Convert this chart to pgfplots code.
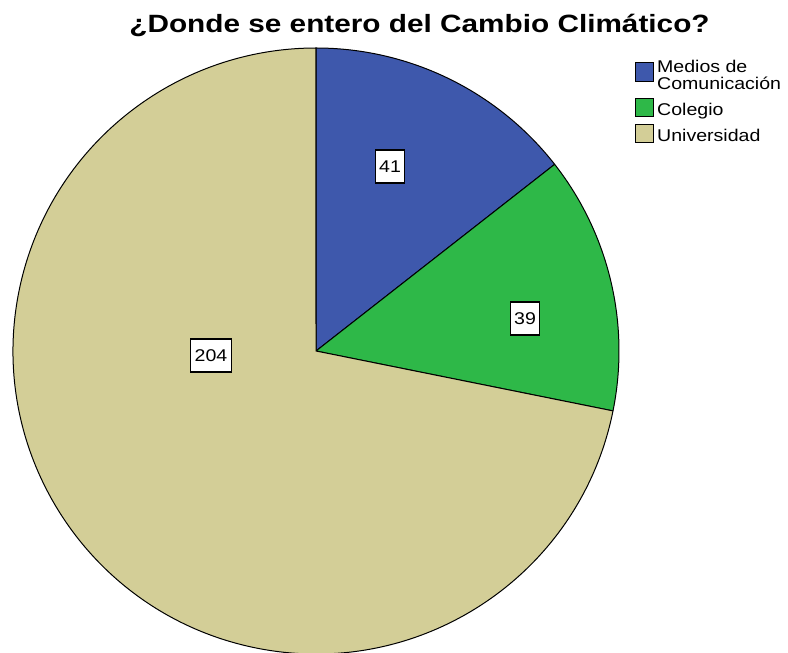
\documentclass[border=0pt]{standalone}
\usepackage{fontspec}
\setmainfont{Liberation Sans}[FakeStretch=1.15]
\newfontfamily\titlefont{Liberation Sans Bold}[FakeStretch=1.19]
\usepackage{pgfplots}
\pgfplotsset{compat=1.18}

\definecolor{spssblue}{HTML}{3E58AC}
\definecolor{spssgreen}{HTML}{2EB848}
\definecolor{spsstan}{HTML}{D3CE97}

% counts per source
\def\vMedios{41}
\def\vColegio{39}
\def\vUniv{204}

\begin{document}
\begin{tikzpicture}
\pgfmathsetmacro{\total}{\vMedios+\vColegio+\vUniv}
\pgfmathsetmacro{\aA}{90}
\pgfmathsetmacro{\aB}{\aA-360*(\vMedios/\total)}
\pgfmathsetmacro{\aC}{\aB-360*(\vColegio/\total)}
\pgfmathsetmacro{\aD}{\aC-360*(\vUniv/\total)}
\begin{axis}[
    width=788pt, height=653pt,
    scale only axis,
    xmin=0, xmax=788, ymin=0, ymax=653,
    hide axis,
]
% slices (1 axis unit = 1pt, y measured from the bottom)
\filldraw[fill=spssblue, draw=black, line width=1pt, line join=round]
    (axis cs:316,302) -- ++(\aA:303pt) arc[start angle=\aA, end angle=\aB, radius=303pt] -- cycle;
\filldraw[fill=spssgreen, draw=black, line width=1pt, line join=round]
    (axis cs:316,302) -- ++(\aB:303pt) arc[start angle=\aB, end angle=\aC, radius=303pt] -- cycle;
\filldraw[fill=spsstan, draw=black, line width=1pt, line join=round]
    (axis cs:316,302) -- ++(\aC:303pt) arc[start angle=\aC, end angle=\aD, radius=303pt] -- cycle;

% value labels
\tikzset{vlab/.style={draw=black, fill=white, line width=1.2pt, inner xsep=4pt,
    minimum height=33pt, font=\fontsize{17}{20}\selectfont}}
\node[vlab] at (axis cs:390,486.5) {\vMedios};
\node[vlab] at (axis cs:525,334.5) {\vColegio};
\node[vlab] at (axis cs:211,297.5) {\vUniv};

% title
\node[font=\titlefont\fontsize{25}{29}\selectfont, anchor=base] at (axis cs:419.5,620) {¿Donde se entero del Cambio Climático?};

% legend
\tikzset{lsq/.style={draw=black, line width=1pt}, ltx/.style={anchor=base west, inner sep=0pt, font=\fontsize{17}{20}\selectfont}}
\filldraw[lsq, fill=spssblue] (axis cs:635,590) rectangle (axis cs:653,571);
\filldraw[lsq, fill=spssgreen] (axis cs:635,554) rectangle (axis cs:653,536);
\filldraw[lsq, fill=spsstan] (axis cs:635,528) rectangle (axis cs:653,510);
\node[ltx] at (axis cs:657,580) {Medios de};
\node[ltx] at (axis cs:657,563) {Comunicación};
\node[ltx] at (axis cs:657,537) {Colegio};
\node[ltx] at (axis cs:657,511) {Universidad};
\end{axis}
\pgfresetboundingbox
\path (current axis.south west) rectangle (current axis.north east);
\end{tikzpicture}
\end{document}
